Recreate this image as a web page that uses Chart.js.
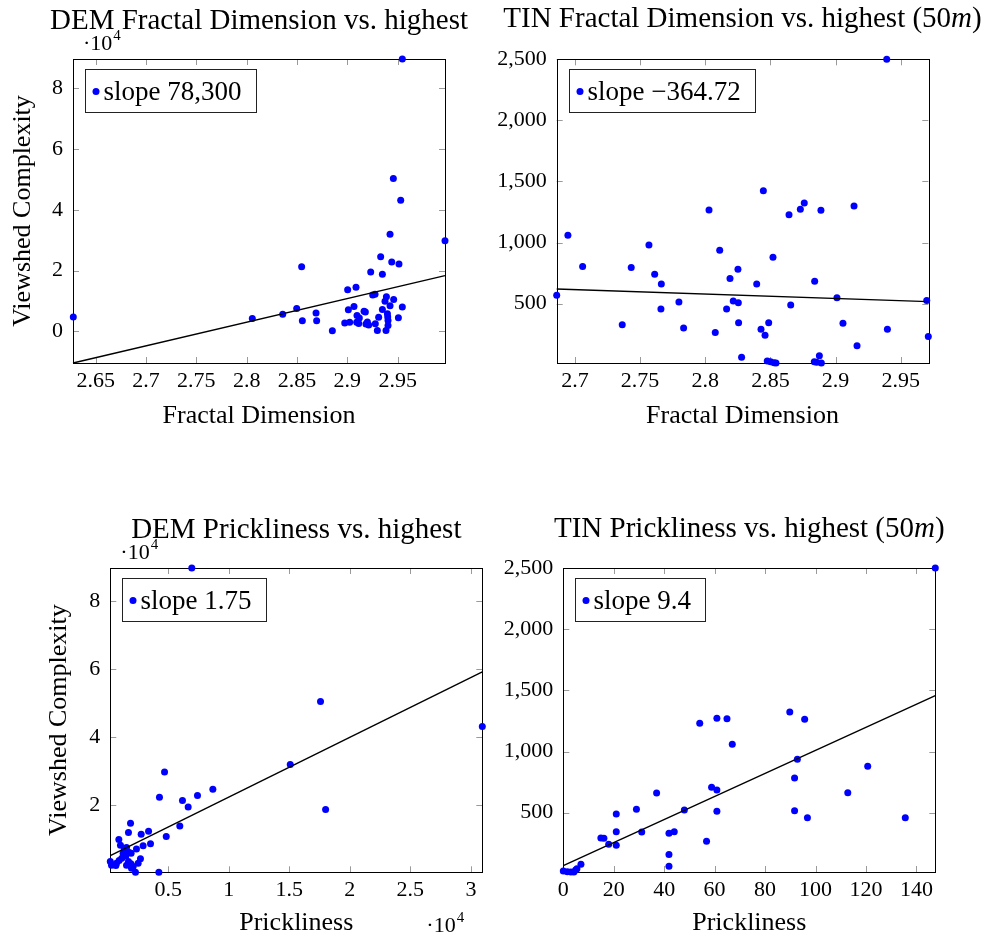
<!DOCTYPE html>
<html>
<head>
<meta charset="utf-8">
<script src="https://cdn.jsdelivr.net/npm/chart.js@4.4.1/dist/chart.umd.min.js"></script>
<style>
  html, body { margin: 0; padding: 0; background: #fff; }
  #wrap { position: relative; width: 987px; height: 939px; }
  #wrap canvas { position: absolute; }
</style>
</head>
<body>
<div id="wrap">
  <canvas id="demFd" width="493" height="470" style="left:0;top:0"></canvas>
  <canvas id="tinFd" width="494" height="470" style="left:493px;top:0"></canvas>
  <canvas id="demPr" width="493" height="469" style="left:0;top:470px"></canvas>
  <canvas id="tinPr" width="494" height="469" style="left:493px;top:470px"></canvas>
</div>
<script>
const FONT = "'Liberation Serif', 'Times New Roman', serif";

// DEM fractal dimension vs. highest viewshed complexity
const demFdX = [2.6278, 2.8056, 2.8358, 2.8497, 2.8546, 2.8553, 2.8689, 2.8695, 2.8851, 2.8974,
  2.9023, 2.9003, 2.9010, 2.9066, 2.9086, 2.9096, 2.9119, 2.9093, 2.9113, 2.9166,
  2.9179, 2.9199, 2.9212, 2.9185, 2.9232, 2.9252, 2.9275, 2.9278, 2.9311, 2.9298,
  2.9331, 2.9348, 2.9348, 2.9374, 2.9384, 2.9388, 2.9398, 2.9401, 2.9404, 2.9404,
  2.9424, 2.9424, 2.9441, 2.9457, 2.9460, 2.9507, 2.9513, 2.9530, 2.9546, 2.9546, 2.9970];
const demFdY = [4700, 4200, 5600, 7500, 21300, 3500, 6000, 3500, 200, 2700,
  3000, 13700, 7100, 8200, 14500, 5200, 4400, 3000, 2600, 6600,
  6400, 3100, 2100, 2400, 19500, 12000, 12200, 2500, 4600, 300,
  24600, 7200, 18800, 9900, 300, 11400, 5800, 4700, 3600, 1900,
  8400, 32000, 22800, 50300, 10500, 4500, 22200, 43200, 8000, 89700, 29800];
const demFdFitX = [2.6275, 2.997];
const demFdFitY = [-10440, 18350];
const demFdXTicks = [2.65, 2.7, 2.75, 2.8, 2.85, 2.9, 2.95];
const demFdYTicks = [0, 20000, 40000, 60000, 80000];

// TIN fractal dimension vs. highest (50 m)
const tinFdX = [2.6860, 2.6946, 2.7059, 2.7363, 2.7432, 2.7568, 2.7612, 2.7663, 2.7660, 2.7798,
  2.7834, 2.8029, 2.8077, 2.8111, 2.8164, 2.8190, 2.8215, 2.8251, 2.8254, 2.8256,
  2.8279, 2.8395, 2.8428, 2.8446, 2.8459, 2.8487, 2.8520, 2.8476, 2.8502, 2.8528,
  2.8543, 2.8643, 2.8656, 2.8730, 2.8760, 2.8840, 2.8837, 2.8855, 2.8876, 2.8888,
  2.8891, 2.9011, 2.9057, 2.9142, 2.9165, 2.9393, 2.9398, 2.9700, 2.9712];
const tinFdY = [568, 1059, 803, 328, 795, 980, 740, 661, 456, 514,
  301, 1267, 263, 937, 456, 705, 522, 781, 508, 344,
  61, 661, 290, 1425, 241, 344, 879, 31, 25, 17,
  14, 1228, 489, 1272, 1324, 683, 25, 20, 74, 1264,
  14, 549, 339, 1299, 156, 2500, 290, 525, 230];
const tinFdFitX = [2.686, 2.9712];
const tinFdFitY = [620, 516];
const tinFdXTicks = [2.7, 2.75, 2.8, 2.85, 2.9, 2.95];
const tinFdYTicks = [500, 1000, 1500, 2000, 2500];

// DEM prickliness vs. highest viewshed complexity
const demPrX = [6950, 17580, 30940, 15080, 4700, 8690, 4280, 7420, 6180, 6650,
  18000, 5960, 4840, 1890, 1720, 3380, 2770, 3540, 2930, 925,
  1060, 2380, 1370, 1560, 1780, 1940, 1280, 1500, 1170, 950,
  730, 220, 320, 680, 1720, 1920, 1560, 2710, 2520, 2110,
  1970, 2300, 4230];
const demPrY = [89700, 50400, 43100, 31900, 29700, 24600, 22300, 22800, 21300, 19400,
  18700, 13800, 10700, 14600, 11900, 12300, 11400, 8600, 8000, 9820,
  8160, 7080, 6790, 7480, 6010, 5810, 5810, 5030, 4340, 3660,
  2880, 3370, 2290, 2190, 3370, 2680, 2290, 4150, 2880, 1900,
  1410, 200, 200];
const demPrFitX = [220, 30940];
const demPrFitY = [5130, 59140];
const demPrXTicks = [5000, 10000, 15000, 20000, 25000, 30000];
const demPrYTicks = [20000, 40000, 60000, 80000];

// TIN prickliness vs. highest (50 m)
const tinPrX = [147.5, 54.1, 60.9, 64.9, 67.0, 89.8, 95.7, 92.8, 91.7, 91.7,
  96.8, 120.7, 112.8, 135.6, 37.0, 58.8, 60.9, 60.9, 48.0, 29.0,
  21.0, 21.0, 31.1, 41.9, 44.0, 56.8, 14.9, 16.1, 18.0, 21.0,
  41.9, 41.9, 7.0, 0, 1.6, 3.0, 4.2, 4.9, 5.4];
const tinPrY = [2500, 1230, 1271, 1268, 1059, 1323, 1263, 936, 783, 516,
  459, 879, 663, 459, 661, 707, 685, 511, 522, 527,
  489, 345, 342, 331, 345, 266, 293, 290, 241, 233,
  159, 61, 78, 23, 18, 15, 15, 31, 42];
const tinPrFitX = [0, 147.5];
const tinPrFitY = [67, 1456];
const tinPrXTicks = [0, 20, 40, 60, 80, 100, 120, 140];
const tinPrYTicks = [500, 1000, 1500, 2000, 2500];

// inward tick marks on all four sides, frame, legend box, titles and the 10^4 factors
const pgfAxis = {
  id: 'pgfAxis',
  beforeDatasetsDraw(chart) {
    const { ctx, chartArea: a, scales: { x, y } } = chart;
    ctx.save();
    ctx.strokeStyle = '#9a9a9a';
    ctx.lineWidth = 1;
    ctx.beginPath();
    x.ticks.forEach(t => {
      const px = Math.round(x.getPixelForValue(t.value)) + 0.5;
      ctx.moveTo(px, a.bottom); ctx.lineTo(px, a.bottom - 6);
      ctx.moveTo(px, a.top); ctx.lineTo(px, a.top + 6);
    });
    y.ticks.forEach(t => {
      const py = Math.round(y.getPixelForValue(t.value)) + 0.5;
      ctx.moveTo(a.left, py); ctx.lineTo(a.left + 6, py);
      ctx.moveTo(a.right, py); ctx.lineTo(a.right - 6, py);
    });
    ctx.stroke();
    ctx.strokeStyle = '#000';
    ctx.strokeRect(Math.round(a.left) + 0.5, Math.round(a.top) + 0.5,
      Math.round(a.width), Math.round(a.height));
    ctx.restore();
  },
  afterDraw(chart, args, opts) {
    const { ctx, chartArea: a } = chart;
    ctx.save();
    ctx.fillStyle = '#000';
    ctx.textBaseline = 'alphabetic';
    ctx.textAlign = 'left';

    // title, with an italic segment for the unit
    let total = 0;
    const widths = opts.title.map(s => {
      ctx.font = (s.italic ? 'italic ' : '') + '29px ' + FONT;
      const w = ctx.measureText(s.text).width;
      total += w;
      return w;
    });
    let tx = (a.left + a.right) / 2 - total / 2;
    opts.title.forEach((s, i) => {
      ctx.font = (s.italic ? 'italic ' : '') + '29px ' + FONT;
      ctx.fillText(s.text, tx, a.top - opts.titleGap);
      tx += widths[i];
    });

    // legend box in the upper left corner
    ctx.font = '27px ' + FONT;
    const lw = ctx.measureText(opts.legend).width;
    const bx = Math.round(a.left + 12) + 0.5, by = Math.round(a.top + 10) + 0.5;
    const bw = Math.round(18 + lw + 15), bh = 43;
    ctx.fillStyle = '#fff';
    ctx.fillRect(bx, by, bw, bh);
    ctx.strokeStyle = '#222';
    ctx.lineWidth = 1;
    ctx.strokeRect(bx, by, bw, bh);
    ctx.fillStyle = 'blue';
    ctx.beginPath();
    ctx.arc(bx + 10.5, by + 22, 3.5, 0, Math.PI * 2);
    ctx.fill();
    ctx.fillStyle = '#000';
    ctx.fillText(opts.legend, bx + 18, by + 30);

    // scale factors
    const drawExp = (x0, y0) => {
      ctx.font = '22px ' + FONT;
      ctx.fillText('\u00b710', x0, y0);
      const w = ctx.measureText('\u00b710').width;
      ctx.font = '15px ' + FONT;
      ctx.fillText('4', x0 + w + 1, y0 - 10);
    };
    if (opts.yExp) drawExp(a.left + 10, a.top - 9);
    if (opts.xExp) drawExp(a.right - 56, a.bottom + 60);
    ctx.restore();
  }
};

function makeChart(id, cfg) {
  const points = cfg.xs.map((x, i) => ({ x: x, y: cfg.ys[i] }));
  const fit = cfg.fitX.map((x, i) => ({ x: x, y: cfg.fitY[i] }));
  const tickFont = { family: FONT, size: 22 };
  const titleFont = { family: FONT, size: 26 };
  return new Chart(document.getElementById(id), {
    type: 'scatter',
    data: {
      datasets: [
        {
          data: fit,
          showLine: true,
          borderColor: '#000',
          borderWidth: 1.4,
          pointRadius: 0,
          clip: false,
          order: 0
        },
        {
          data: points,
          backgroundColor: 'blue',
          borderColor: 'blue',
          borderWidth: 0,
          pointRadius: 3.5,
          clip: false,
          order: 1
        }
      ]
    },
    options: {
      responsive: false,
      animation: false,
      devicePixelRatio: 1,
      layout: { padding: cfg.pad },
      plugins: {
        legend: { display: false },
        tooltip: { enabled: false },
        pgfAxis: cfg.deco
      },
      scales: {
        x: {
          type: 'linear',
          min: cfg.xMin,
          max: cfg.xMax,
          grid: { display: false, drawTicks: false },
          border: { display: false },
          afterBuildTicks: s => { s.ticks = cfg.xTicks.map(v => ({ value: v })); },
          ticks: {
            autoSkip: false,
            maxRotation: 0,
            padding: 5,
            color: '#000',
            font: tickFont,
            callback: cfg.xFmt
          },
          title: { display: true, text: cfg.xTitle, color: '#000', font: titleFont, padding: 0 },
          afterFit: s => { s.height = cfg.xH; }
        },
        y: {
          type: 'linear',
          min: cfg.yMin,
          max: cfg.yMax,
          grid: { display: false, drawTicks: false },
          border: { display: false },
          afterBuildTicks: s => { s.ticks = cfg.yTicks.map(v => ({ value: v })); },
          ticks: {
            autoSkip: false,
            padding: 10,
            color: '#000',
            font: tickFont,
            callback: cfg.yFmt
          },
          title: { display: !!cfg.yTitle, text: cfg.yTitle, color: '#000', font: titleFont, padding: 0 },
          afterFit: s => { s.width = cfg.yW; }
        }
      }
    },
    plugins: [pgfAxis]
  });
}

const per1e4 = v => String(Math.round(v / 1e4 * 100) / 100);
const twoDec = v => String(Math.round(v * 100) / 100);
const grouped = v => v.toLocaleString('en-US');

makeChart('demFd', {
  xs: demFdX, ys: demFdY, fitX: demFdFitX, fitY: demFdFitY,
  xMin: 2.6275, xMax: 2.997, xTicks: demFdXTicks, xFmt: twoDec,
  yMin: -10440, yMax: 89700, yTicks: demFdYTicks, yFmt: per1e4,
  xTitle: 'Fractal Dimension', yTitle: 'Viewshed Complexity',
  pad: { left: 7.4, top: 59, right: 48, bottom: 38.4 }, yW: 65.6, xH: 68.6,
  deco: { title: [{ text: 'DEM Fractal Dimension vs. highest' }], titleGap: 30,
    legend: 'slope 78,300', yExp: true, xExp: false }
});

makeChart('tinFd', {
  xs: tinFdX, ys: tinFdY, fitX: tinFdFitX, fitY: tinFdFitY,
  xMin: 2.686, xMax: 2.9712, xTicks: tinFdXTicks, xFmt: twoDec,
  yMin: 14, yMax: 2500, yTicks: tinFdYTicks, yFmt: grouped,
  xTitle: 'Fractal Dimension', yTitle: '',
  pad: { left: 5, top: 59.3, right: 58.7, bottom: 38.4 }, yW: 58.7, xH: 68.6,
  deco: { title: [{ text: 'TIN Fractal Dimension vs. highest (50' }, { text: 'm', italic: true }, { text: ')' }],
    titleGap: 32, legend: 'slope \u2212364.72', yExp: false, xExp: false }
});

makeChart('demPr', {
  xs: demPrX, ys: demPrY, fitX: demPrFitX, fitY: demPrFitY,
  xMin: 220, xMax: 30940, xTicks: demPrXTicks, xFmt: per1e4,
  yMin: 200, yMax: 89700, yTicks: demPrYTicks, yFmt: per1e4,
  xTitle: 'Prickliness', yTitle: 'Viewshed Complexity',
  pad: { left: 43.8, top: 98, right: 10.7, bottom: 0.3 }, yW: 66.5, xH: 66.4,
  deco: { title: [{ text: 'DEM Prickliness vs. highest' }], titleGap: 30,
    legend: 'slope 1.75', yExp: true, xExp: true }
});

makeChart('tinPr', {
  xs: tinPrX, ys: tinPrY, fitX: tinPrFitX, fitY: tinPrFitY,
  xMin: 0, xMax: 147.5, xTicks: tinPrXTicks, xFmt: v => String(v),
  yMin: 15, yMax: 2500, yTicks: tinPrYTicks, yFmt: grouped,
  xTitle: 'Prickliness', yTitle: '',
  pad: { left: 5, top: 98, right: 51.7, bottom: 0.7 }, yW: 65.3, xH: 66.3,
  deco: { title: [{ text: 'TIN Prickliness vs. highest (50' }, { text: 'm', italic: true }, { text: ')' }],
    titleGap: 31, legend: 'slope 9.4', yExp: false, xExp: false }
});
</script>
</body>
</html>
